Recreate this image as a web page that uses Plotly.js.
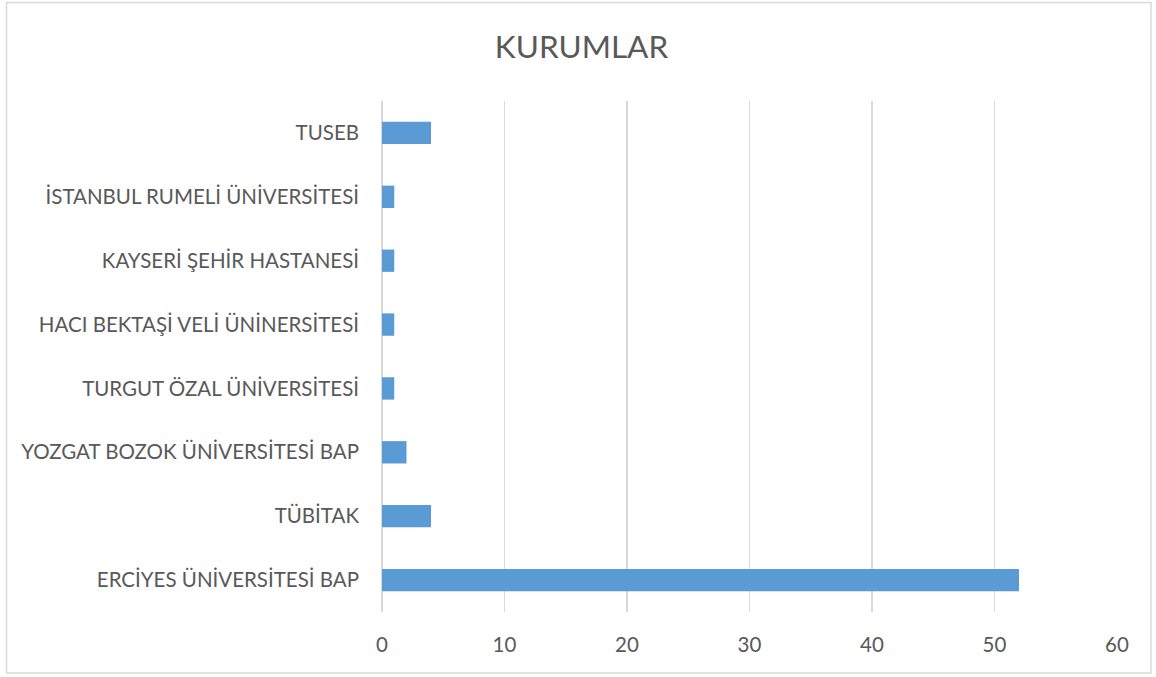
<!DOCTYPE html>
<html>
<head>
<meta charset="utf-8">
<script src="https://cdn.plot.ly/plotly-3.0.1.min.js"></script>
<style>html,body{margin:0;padding:0;background:#fff;}#chart{width:1156px;height:677px;}</style>
</head>
<body>
<div id="chart"></div>
<script>
const categories = [
  "ERCİYES ÜNİVERSİTESİ BAP",
  "TÜBİTAK",
  "YOZGAT BOZOK ÜNİVERSİTESİ BAP",
  "TURGUT ÖZAL ÜNİVERSİTESİ",
  "HACI BEKTAŞİ VELİ ÜNİNERSİTESİ",
  "KAYSERİ ŞEHİR HASTANESİ",
  "İSTANBUL RUMELİ ÜNİVERSİTESİ",
  "TUSEB"
];
const values = [52, 4, 2, 1, 1, 1, 1, 4];
const xTicks = [0, 10, 20, 30, 40, 50, 60];

const font = "Lato, 'Open Sans', sans-serif";
const textColor = "#595959";

const W = 1156, H = 677;
const L = 382, R = 39, T = 101, B = 65;
const pw = W - L - R, ph = H - T - B;
function px(x){ return (x - L) / pw; }
function py(y){ return (H - B - y) / ph; }

const data = [{
  type: "bar",
  orientation: "h",
  y: categories,
  x: values,
  width: 0.35,
  marker: {color: "#5B9BD5"},
  hoverinfo: "x+y"
}];

const layout = {
  width: W, height: H,
  margin: {l: L, r: R, t: T, b: B, pad: 0},
  paper_bgcolor: "#fff",
  plot_bgcolor: "#fff",
  showlegend: false,
  font: {family: font, color: textColor, size: 20.5},
  title: {text: "KURUMLAR", font: {family: font, size: 31.5, color: textColor}, xref: "paper", x: px(581.5), xanchor: "center", y: 1 - 47/H, yanchor: "middle"},
  xaxis: {
    range: [0, 60],
    tickvals: xTicks,
    ticktext: xTicks.map(String),
    showgrid: true,
    gridcolor: "#D9D9D9",
    gridwidth: 1.5,
    zeroline: true,
    zerolinecolor: "#D9D9D9",
    zerolinewidth: 1.5,
    showline: false,
    ticks: "",
    ticklabelstandoff: 18,
    tickfont: {family: font, size: 20.5, color: textColor},
    fixedrange: true
  },
  yaxis: {
    type: "category",
    categoryorder: "array",
    categoryarray: categories,
    showgrid: false,
    zeroline: false,
    showline: false,
    ticks: "",
    ticklabelstandoff: 22,
    tickfont: {family: font, size: 20.5, color: textColor},
    fixedrange: true
  },
  shapes: [{
    type: "rect", xref: "paper", yref: "paper",
    x0: px(6.5), x1: px(1151), y0: py(673), y1: py(2.5),
    line: {color: "#D9D9D9", width: 1.5},
    fillcolor: "rgba(0,0,0,0)",
    layer: "below"
  }]
};

Plotly.newPlot("chart", data, layout, {displayModeBar: false, staticPlot: true});
</script>
</body>
</html>
